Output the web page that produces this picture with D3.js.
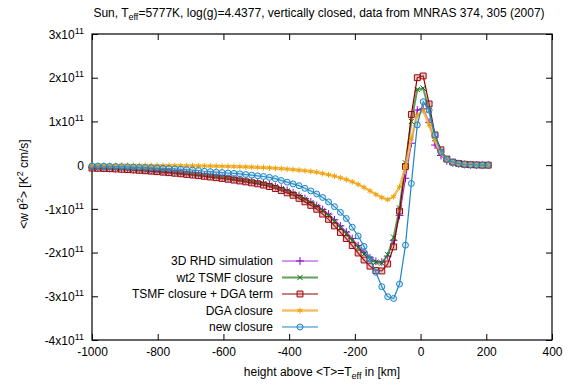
<!DOCTYPE html>
<html>
<head>
<meta charset="utf-8">
<script src="https://cdnjs.cloudflare.com/ajax/libs/d3/7.8.5/d3.min.js"></script>
<style>
  html, body { margin: 0; padding: 0; background: #fff; }
  svg text { font-family: "Liberation Sans", Arial, sans-serif; fill: #000; }
</style>
</head>
<body>
<div id="chart"></div>
<script>
// heights above <T>=Teff in km (simulation grid)
const heights = [-1000,-982,-964,-946,-928,-910,-892,-874,-856,-838,-820,-802,-784,-766,-748,-730,-712,-694,
  -676,-658,-640,-622,-604,-586,-568,-550,-532,-514,-496,-478,-460,-442,-424,-406,-388,-370,-352,-334,-316,-298,
  -280,-262,-244,-226,-208,-190,-172,-154,-136,-118,-100,-82,-64,-46,-28,-10,8,26,44,62,80,98,116,134,152,170,188,206];

// <w theta^2> in units of 1e11 K^2 cm/s
const rhdSim = [-0.06,-0.064,-0.068,-0.073,-0.078,-0.084,-0.091,-0.099,-0.107,-0.116,
  -0.125,-0.135,-0.145,-0.156,-0.167,-0.179,-0.192,-0.205,-0.219,-0.233,
  -0.248,-0.263,-0.279,-0.296,-0.314,-0.333,-0.353,-0.374,-0.396,-0.42,
  -0.45,-0.488,-0.53,-0.578,-0.632,-0.695,-0.765,-0.842,-0.925,-1.015,
  -1.12,-1.25,-1.39,-1.53,-1.68,-1.84,-1.99,-2.12,-2.2,-2.22,
  -2.08,-1.72,-1.15,-0.30,0.50,1.26,1.29,0.98,0.46,0.22,
  0.10,0.05,0.03,0.015,0.01,0.005,0,0];

const wt2Tsmf = [-0.062,-0.066,-0.07,-0.075,-0.08,-0.087,-0.094,-0.102,-0.11,-0.119,
  -0.128,-0.138,-0.148,-0.159,-0.171,-0.183,-0.196,-0.209,-0.223,-0.237,
  -0.252,-0.267,-0.283,-0.3,-0.318,-0.337,-0.357,-0.378,-0.40,-0.425,
  -0.455,-0.495,-0.54,-0.59,-0.645,-0.71,-0.78,-0.86,-0.945,-1.04,
  -1.15,-1.29,-1.43,-1.57,-1.72,-1.88,-2.03,-2.15,-2.22,-2.24,
  -2.05,-1.65,-0.98,0.05,1.0,1.73,1.76,1.25,0.62,0.30,
  0.13,0.06,0.035,0.02,0.01,0.005,0,0];

const tsmfDga = [-0.068,-0.072,-0.076,-0.081,-0.087,-0.094,-0.102,-0.11,-0.119,-0.128,
  -0.138,-0.149,-0.16,-0.172,-0.185,-0.198,-0.212,-0.226,-0.241,-0.256,
  -0.272,-0.288,-0.305,-0.323,-0.342,-0.362,-0.383,-0.405,-0.428,-0.457,
  -0.49,-0.535,-0.58,-0.635,-0.69,-0.76,-0.84,-0.92,-1.01,-1.12,
  -1.24,-1.39,-1.54,-1.68,-1.84,-2.01,-2.17,-2.31,-2.41,-2.42,
  -2.26,-1.87,-1.05,-0.03,1.16,2.0,2.04,1.40,0.69,0.35,
  0.14,0.07,0.04,0.02,0.01,0.005,0,0];

const dgaOnly = [-0.005,-0.005,-0.005,-0.006,-0.006,-0.006,-0.007,-0.007,-0.008,-0.008,
  -0.009,-0.009,-0.01,-0.011,-0.012,-0.013,-0.014,-0.015,-0.017,-0.019,
  -0.021,-0.023,-0.026,-0.029,-0.032,-0.036,-0.04,-0.045,-0.05,-0.056,
  -0.063,-0.071,-0.08,-0.09,-0.101,-0.113,-0.127,-0.143,-0.161,-0.19,
  -0.22,-0.25,-0.29,-0.33,-0.38,-0.44,-0.51,-0.59,-0.67,-0.74,
  -0.79,-0.72,-0.50,-0.04,0.61,1.14,1.25,0.92,0.57,0.27,
  0.13,0.06,0.03,0.02,0.01,0.005,0,0];

const newClosure = [-0.02,-0.022,-0.025,-0.028,-0.031,-0.035,-0.039,-0.044,-0.05,-0.055,
  -0.06,-0.066,-0.072,-0.079,-0.087,-0.095,-0.104,-0.113,-0.123,-0.14,
  -0.15,-0.16,-0.17,-0.18,-0.19,-0.20,-0.215,-0.23,-0.245,-0.26,
  -0.28,-0.31,-0.35,-0.39,-0.43,-0.47,-0.53,-0.59,-0.66,-0.74,
  -0.84,-0.95,-1.08,-1.22,-1.42,-1.62,-1.86,-2.15,-2.45,-2.78,
  -3.01,-3.05,-2.72,-1.83,-0.42,0.92,1.45,1.26,0.69,0.30,
  0.13,0.07,0.035,0.02,0.01,0.005,0,0];

const seriesNames = ["3D RHD simulation", "wt2 TSMF closure", "TSMF closure + DGA term", "DGA closure", "new closure"];
const xTicks = [-1000, -800, -600, -400, -200, 0, 200, 400];
const yTicks = [-4, -3, -2, -1, 0, 1, 2, 3];

const series = [
  { name: seriesNames[0], values: rhdSim,     line: "#a033e6", lw: 1.2, op: 1,    mark: "#9400d3", sym: d3.symbolPlus,     size: 22, fill: "none" },
  { name: seriesNames[1], values: wt2Tsmf,    line: "#3f8f3f", lw: 2,   op: 0.85, mark: "#0b6a0b", sym: d3.symbolTimes,    size: 20, fill: "none" },
  { name: seriesNames[2], values: tsmfDga,    line: "#8b0000", lw: 1.2, op: 1,    mark: "#9a0a0a", sym: d3.symbolSquare2,  size: 44, fill: "rgba(200,90,90,0.35)" },
  { name: seriesNames[3], values: dgaOnly,    line: "#f2b54a", lw: 2.6, op: 0.85, mark: "#f0a000", sym: d3.symbolAsterisk, size: 24, fill: "none" },
  { name: seriesNames[4], values: newClosure, line: "#1b86c6", lw: 1.2, op: 1,    mark: "#1b86c6", sym: d3.symbolCircle,   size: 28, fill: "rgba(120,180,225,0.25)" }
];

const W = 586, H = 384;
const margin = { top: 34, right: 34, bottom: 44, left: 92 };
const width = W - margin.left - margin.right;
const height = H - margin.top - margin.bottom;

const svg = d3.select("#chart").append("svg")
  .attr("width", W)
  .attr("height", H);

const g = svg.append("g").attr("transform", `translate(${margin.left},${margin.top})`);

const x = d3.scaleLinear().domain([-1000, 400]).range([0, width]);
const y = d3.scaleLinear().domain([-4, 3]).range([height, 0]);

// axes, ticks pointing inward, mirrored on top and right
const fontSize = 12;
const xAxis = g.append("g")
  .attr("transform", `translate(0,${height})`)
  .call(d3.axisBottom(x).tickValues(xTicks).tickFormat(d => String(d))
    .tickSizeInner(-6).tickSizeOuter(0).tickPadding(7));
const yAxis = g.append("g")
  .call(d3.axisLeft(y).tickValues(yTicks).tickSizeInner(-6).tickSizeOuter(0).tickPadding(8).tickFormat(""));
g.append("g")
  .call(d3.axisTop(x).tickValues(xTicks).tickSizeInner(-6).tickSizeOuter(0).tickFormat(""));
g.append("g")
  .attr("transform", `translate(${width},0)`)
  .call(d3.axisRight(y).tickValues(yTicks).tickSizeInner(-6).tickSizeOuter(0).tickFormat(""));

g.selectAll(".domain").remove();
g.selectAll(".tick line").attr("stroke", "#000");
xAxis.selectAll("text").style("font-size", fontSize + "px");

// y tick labels like 3x10^11
yAxis.selectAll(".tick text").each(function (d) {
  const t = d3.select(this)
    .attr("x", -8)
    .attr("dy", "0.35em")
    .style("font-size", fontSize + "px")
    .attr("text-anchor", "end");
  if (d === 0) { t.text("0"); return; }
  t.append("tspan").text(d + "x10");
  t.append("tspan").attr("dy", "-5").style("font-size", "9px").text("11");
});

// frame
g.append("rect")
  .attr("width", width).attr("height", height)
  .attr("fill", "none").attr("stroke", "#000").attr("stroke-width", 1.2);

// curves
const line = d3.line()
  .x((d, i) => x(heights[i]))
  .y(d => y(d));

series.forEach(s => {
  g.append("path")
    .datum(s.values)
    .attr("fill", "none")
    .attr("stroke", s.line)
    .attr("stroke-width", s.lw)
    .attr("stroke-opacity", s.op)
    .attr("d", line);

  const sym = d3.symbol().type(s.sym).size(s.size);
  g.append("g").selectAll("path")
    .data(s.values)
    .join("path")
    .attr("transform", (d, i) => `translate(${x(heights[i])},${y(d)})`)
    .attr("d", sym)
    .attr("fill", s.fill)
    .attr("stroke", s.mark)
    .attr("stroke-width", 1);
});

// legend
const legend = svg.append("g");
const legY0 = 261, legStep = 16.5;
series.forEach((s, k) => {
  const ly = legY0 + k * legStep;
  legend.append("text")
    .attr("x", 273).attr("y", ly).attr("dy", "0.35em")
    .attr("text-anchor", "end")
    .style("font-size", fontSize + "px")
    .text(s.name);
  legend.append("line")
    .attr("x1", 282).attr("x2", 318).attr("y1", ly).attr("y2", ly)
    .attr("stroke", s.line).attr("stroke-width", s.lw).attr("stroke-opacity", s.op);
  legend.append("path")
    .attr("transform", `translate(300,${ly})`)
    .attr("d", d3.symbol().type(s.sym).size(s.size)())
    .attr("fill", s.fill).attr("stroke", s.mark).attr("stroke-width", 1);
});

// title
const title = svg.append("text")
  .attr("x", 319).attr("y", 17)
  .attr("text-anchor", "middle")
  .style("font-size", fontSize + "px");
title.append("tspan").text("Sun, T");
title.append("tspan").attr("dy", 3).style("font-size", "9px").text("eff");
title.append("tspan").attr("dy", -3).text("=5777K, log(g)=4.4377, vertically closed, data from MNRAS 374, 305 (2007)");

// x label
const xl = svg.append("text")
  .attr("x", margin.left + width / 2).attr("y", 376)
  .attr("text-anchor", "middle")
  .style("font-size", fontSize + "px");
xl.append("tspan").text("height above <T>=T");
xl.append("tspan").attr("dy", 3).style("font-size", "9px").text("eff");
xl.append("tspan").attr("dy", -3).text(" in [km]");

// y label
const yl = svg.append("text")
  .attr("transform", `translate(28,${margin.top + height / 2 - 3}) rotate(-90)`)
  .attr("text-anchor", "middle")
  .style("font-size", fontSize + "px");
yl.append("tspan").text("<w \u03b8");
yl.append("tspan").attr("dy", -5).style("font-size", "9px").text("2");
yl.append("tspan").attr("dy", 5).text("> [K");
yl.append("tspan").attr("dy", -5).style("font-size", "9px").text("2");
yl.append("tspan").attr("dy", 5).text(" cm/s]");
</script>
</body>
</html>
